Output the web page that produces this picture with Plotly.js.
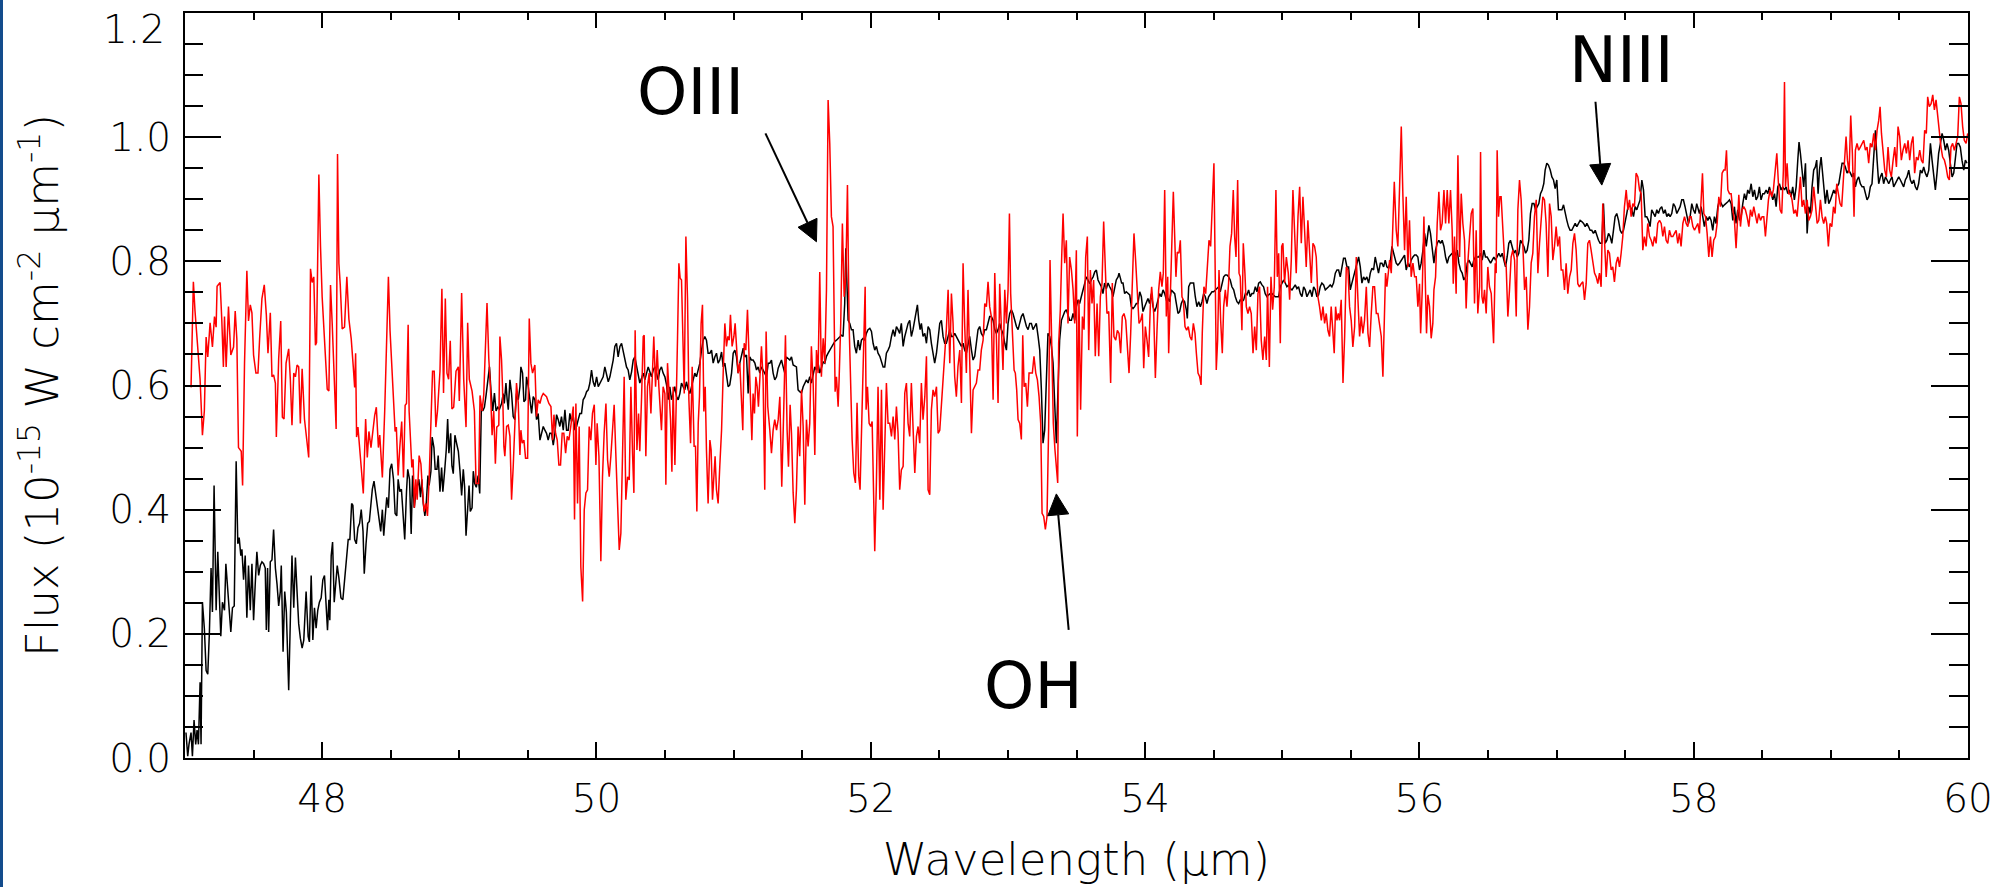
<!DOCTYPE html>
<html>
<head>
<meta charset="utf-8">
<script src="https://cdn.plot.ly/plotly-3.0.1.min.js"></script>
<style>
html,body{margin:0;padding:0;background:#fff;}
#chart{width:2015px;height:887px;}
#strip{position:absolute;left:0;top:0;width:3px;height:887px;background:#134c8c;}
</style>
</head>
<body>
<div id="chart"></div>
<div id="strip"></div>
<script>
// Wavelength (micron) and flux (1e-15 W cm^-2 micron^-1)
const redWave = [
47.044,47.061,47.073,47.093,47.110,47.127,47.141,47.154,47.166,47.183,
47.200,47.215,47.227,47.234,47.256,47.268,47.280,47.288,47.300,47.317,
47.334,47.354,47.366,47.378,47.390,47.410,47.420,47.434,47.451,47.463,
47.476,47.488,47.500,47.517,47.532,47.544,47.561,47.578,47.593,47.605,
47.622,47.634,47.646,47.659,47.666,47.683,47.698,47.710,47.722,47.737,
47.756,47.768,47.780,47.793,47.805,47.817,47.829,47.841,47.854,47.871,
47.890,47.902,47.915,47.927,47.939,47.951,47.959,47.976,47.988,48.000,
48.020,48.037,48.049,48.061,48.073,48.093,48.102,48.112,48.122,48.132,
48.146,48.163,48.180,48.195,48.212,48.227,48.237,48.244,48.251,48.261,
48.273,48.285,48.300,48.317,48.329,48.341,48.356,48.371,48.383,48.395,
48.410,48.420,48.439,48.456,48.471,48.483,48.495,48.512,48.532,48.541,
48.554,48.566,48.580,48.593,48.605,48.615,48.627,48.634,48.654,48.663,
48.673,48.683,48.693,48.707,48.720,48.732,48.744,48.756,48.768,48.780,
48.793,48.805,48.817,48.829,48.841,48.859,48.873,48.885,48.898,48.910,
48.922,48.934,48.946,48.959,48.976,48.993,49.000,49.017,49.032,49.049,
49.061,49.073,49.093,49.110,49.122,49.141,49.151,49.166,49.178,49.190,
49.202,49.215,49.227,49.239,49.251,49.263,49.273,49.288,
49.296,49.308,49.315,49.325,49.332,49.345,49.357,49.369,49.381,49.393,
49.405,49.417,49.430,49.442,49.449,49.459,49.471,49.483,49.498,49.510,
49.522,49.534,49.551,49.563,49.575,49.588,49.600,49.612,49.636,49.653,
49.668,49.680,49.690,49.702,49.714,49.726,49.738,49.750,49.762,49.775,
49.787,49.799,49.811,49.823,49.831,49.840,49.850,49.862,49.874,49.886,
49.899,49.911,49.923,49.935,49.947,49.959,49.971,49.984,49.996,50.005,
50.018,50.032,50.044,50.056,50.069,50.081,50.093,50.105,50.117,50.129,
50.141,50.154,50.166,50.178,50.190,50.202,50.214,50.227,50.239,50.251,
50.263,50.273,50.282,50.295,50.307,50.316,50.329,50.341,50.348,50.360,
50.372,50.384,50.397,50.409,50.418,50.431,50.443,50.455,50.462,50.474,
50.486,50.499,50.506,50.518,50.530,50.540,50.550,50.559,50.572,50.584,
50.591,50.601,50.610,50.620,50.630,50.640,50.652,50.664,50.674,50.686,
50.698,50.712,50.722,50.732,50.742,50.751,50.763,50.773,50.783,50.793,
50.802,50.814,50.827,50.836,50.846,50.856,50.865,50.875,50.887,50.899,
50.912,50.924,50.936,50.948,50.958,50.968,50.977,50.989,51.002,51.011,
51.021,51.033,51.045,51.057,51.067,51.077,51.089,51.101,51.113,51.123,
51.133,51.142,51.152,51.162,51.172,51.181,51.191,51.203,51.215,51.227,
51.237,51.249,51.264,51.276,51.288,51.300,51.313,51.325,51.337,51.351,
51.366,51.378,51.390,51.400,51.412,51.422,51.434,
51.446,51.458,51.470,51.482,51.495,51.507,51.519,51.531,51.543,51.555,
51.567,51.580,51.592,51.604,51.616,51.628,51.640,51.653,51.665,51.677,
51.689,51.701,51.713,51.725,51.733,51.740,51.750,51.762,51.769,51.781,
51.793,51.806,51.818,51.830,51.842,51.852,51.864,51.876,51.888,51.900,
51.912,51.922,51.934,51.946,51.959,51.966,51.976,51.988,52.000,52.010,
52.019,52.029,52.041,52.053,52.066,52.078,52.090,52.102,52.114,52.126,
52.138,52.151,52.163,52.175,52.187,52.199,52.211,52.223,52.236,52.248,
52.260,52.272,52.284,52.296,52.308,52.321,52.333,52.345,52.357,52.369,
52.381,52.394,52.406,52.418,52.430,52.442,52.454,52.466,52.479,52.491,
52.503,52.515,52.527,52.539,52.551,52.564,52.576,52.588,52.600,52.612,
52.624,52.636,52.649,52.661,52.673,52.685,52.697,52.709,52.721,52.734,
52.746,52.758,52.770,52.782,52.794,52.806,52.819,52.831,52.843,52.855,
52.867,52.879,52.892,52.904,52.916,52.928,52.940,52.952,52.964,52.977,
52.989,53.001,53.011,53.020,53.033,53.045,53.054,53.064,53.074,53.086,
53.098,53.108,53.118,53.130,53.142,53.154,53.166,53.178,53.190,53.203,
53.215,53.227,53.239,53.249,53.261,53.273,53.285,53.297,53.307,53.319,
53.331,53.343,53.356,53.363,53.370,53.382,53.392,53.402,53.414,53.426,
53.438,53.450,53.463,53.475,53.487,53.499,53.506,53.518,53.530,53.543,
53.555,53.567,53.579,53.589,53.601,53.613,53.625,53.637,53.650,53.662,
53.674,53.686,
53.698,53.710,53.722,53.735,53.749,53.761,53.773,53.786,53.798,53.810,
53.822,53.834,53.846,53.859,53.871,53.883,53.895,53.907,53.919,53.931,
53.944,53.956,53.968,53.980,53.990,54.002,54.014,54.026,54.038,54.048,
54.063,54.075,54.087,54.099,54.111,54.123,54.133,54.143,54.155,54.165,
54.172,54.184,54.196,54.206,54.216,54.225,54.235,54.247,54.257,54.269,
54.279,54.291,54.303,54.315,54.327,54.340,54.352,54.364,54.374,54.386,
54.398,54.408,54.417,54.429,54.442,54.454,54.466,54.478,54.490,54.502,
54.512,54.519,54.529,54.539,54.551,54.563,54.573,54.585,54.597,54.609,
54.619,54.631,54.643,54.653,54.663,54.675,54.685,54.694,54.706,54.716,
54.728,54.738,54.750,54.762,54.774,54.787,54.799,54.811,54.823,54.835,
54.847,54.859,54.872,54.884,54.893,54.906,54.918,54.930,54.942,54.954,
54.964,54.974,54.986,54.996,55.005,55.017,55.030,55.044,55.054,55.066,
55.078,55.090,55.102,55.115,55.127,55.139,55.151,55.163,55.175,55.187,
55.200,55.212,55.224,55.236,55.248,55.260,55.272,55.285,55.297,55.309,
55.321,55.333,55.345,55.357,55.370,55.379,55.389,55.399,55.409,55.418,
55.430,55.443,55.455,55.467,55.479,55.491,55.503,55.515,55.528,55.540,
55.552,55.564,55.576,55.588,55.600,55.613,55.625,55.637,55.649,55.661,
55.673,55.686,55.698,55.710,55.722,55.734,55.746,55.753,55.763,55.773,
55.783,55.795,55.807,55.817,
55.831,55.843,55.855,55.868,55.880,55.892,55.904,55.916,55.928,55.940,
55.953,55.965,55.977,55.989,56.001,56.009,56.021,56.033,56.043,56.052,
56.062,56.074,56.086,56.098,56.106,56.118,56.130,56.142,56.154,56.166,
56.179,56.191,56.203,56.215,56.227,56.239,56.247,56.256,56.268,56.281,
56.293,56.305,56.317,56.329,56.341,56.353,56.366,56.378,56.390,56.402,
56.414,56.426,56.439,56.446,56.456,56.465,56.475,56.487,56.499,56.511,
56.524,56.531,56.541,56.553,56.560,56.567,56.577,56.587,56.596,56.609,
56.621,56.633,56.645,56.657,56.669,56.681,56.694,56.706,56.718,56.730,
56.742,56.754,56.767,56.779,56.791,56.803,56.815,56.827,56.839,56.852,
56.864,56.876,56.888,56.900,56.912,56.924,56.937,56.949,56.961,56.973,
56.985,56.997,57.009,57.022,57.034,57.046,57.058,57.070,57.082,57.095,
57.107,57.119,57.131,57.143,57.155,57.167,57.180,57.192,57.204,57.216,
57.228,57.240,57.252,57.265,57.277,57.289,57.301,57.313,57.325,57.337,
57.350,57.362,57.374,57.386,57.398,57.410,57.422,57.435,57.447,57.459,
57.471,57.483,57.495,57.508,57.520,57.532,57.544,57.556,57.568,57.580,
57.593,57.605,57.617,57.629,57.641,57.653,57.665,57.678,57.690,57.702,
57.714,57.726,57.738,57.751,57.763,57.775,57.787,57.799,57.811,57.823,
57.836,57.848,57.860,57.872,57.884,57.896,57.908,57.921,57.933,57.945,
57.957,57.969,57.981,57.994,58.006,58.018,58.030,
58.042,58.054,58.064,58.074,58.086,58.098,58.110,58.122,58.134,58.146,
58.159,58.171,58.183,58.195,58.207,58.219,58.229,58.239,58.249,58.261,
58.273,58.285,58.297,58.309,58.319,58.329,58.341,58.353,58.365,58.377,
58.389,58.402,58.414,58.426,58.438,58.450,58.462,58.474,58.487,58.499,
58.511,58.523,58.535,58.545,58.557,58.569,58.581,58.594,58.606,58.618,
58.630,58.642,58.654,58.662,58.669,58.681,58.693,58.705,58.717,58.730,
58.742,58.754,58.766,58.778,58.790,58.802,58.815,58.827,58.839,58.851,
58.863,58.875,58.887,58.900,58.912,58.924,58.936,58.948,58.960,58.970,
58.982,58.994,59.007,59.019,59.031,59.043,59.055,59.067,59.079,59.092,
59.104,59.111,59.121,59.133,59.145,59.157,59.169,59.179,59.191,59.203,
59.215,59.228,59.240,59.252,59.264,59.276,59.288,59.300,59.313,59.325,
59.337,59.349,59.359,59.369,59.381,59.393,59.405,59.417,59.429,59.441,
59.454,59.466,59.478,59.490,59.502,59.514,59.526,59.539,59.551,59.563,
59.575,59.587,59.599,59.611,59.624,59.636,59.648,59.660,59.672,59.684,
59.696,59.706,59.718,59.731,59.743,59.755,59.767,59.779,59.791,59.803,
59.815,59.828,59.840,59.852,59.864,59.876,59.888,59.900,59.913,59.925,
59.937,59.949,59.961,59.973,59.986,59.998
];
const redFlux = [
0.597,0.767,0.720,0.652,0.610,0.520,0.559,0.678,0.646,0.701,
0.662,0.711,0.694,0.760,0.766,0.707,0.630,0.711,0.630,0.727,
0.649,0.662,0.720,0.675,0.500,0.494,0.439,0.636,0.785,0.704,
0.730,0.717,0.649,0.620,0.620,0.675,0.740,0.762,0.714,0.652,
0.717,0.614,0.617,0.604,0.517,0.643,0.704,0.549,0.546,0.636,
0.659,0.610,0.536,0.620,0.614,0.633,0.630,0.539,0.627,0.546,
0.500,0.484,0.788,0.766,0.775,0.665,0.669,0.940,0.824,0.743,
0.662,0.594,0.591,0.762,0.701,0.588,0.530,0.973,0.797,0.762,
0.691,0.694,0.775,0.707,0.675,0.630,0.597,0.652,0.517,0.533,
0.494,0.468,0.426,0.546,0.484,0.526,0.500,0.530,0.552,0.565,
0.500,0.520,0.452,0.559,0.672,0.775,0.688,0.604,0.526,0.533,
0.455,0.500,0.542,0.452,0.568,0.571,0.698,0.559,0.468,0.481,
0.403,0.449,0.416,0.487,0.474,0.429,0.397,0.410,0.390,0.449,
0.552,0.623,0.623,0.533,0.559,0.623,0.756,0.588,0.740,0.620,
0.610,0.672,0.562,0.565,0.623,0.630,0.575,0.749,0.610,0.533,
0.701,0.610,0.591,0.559,0.442,0.442,0.584,0.559,0.584,0.649,
0.733,0.643,0.597,0.520,0.559,0.474,0.533,0.536,
0.679,0.641,0.598,0.502,0.486,0.534,0.536,0.518,0.416,0.469,
0.555,0.604,0.571,0.488,0.528,0.507,0.512,0.483,0.483,0.708,
0.636,0.620,0.633,0.550,0.577,0.571,0.582,0.587,0.582,0.571,
0.566,0.512,0.553,0.523,0.512,0.472,0.472,0.523,0.523,0.491,
0.518,0.512,0.531,0.550,0.566,0.384,0.571,0.410,0.534,0.308,
0.252,0.400,0.427,0.432,0.534,0.512,0.555,0.569,0.472,0.539,
0.486,0.317,0.453,0.523,0.571,0.480,0.453,0.486,0.528,0.569,
0.491,0.394,0.335,0.362,0.491,0.614,0.416,0.453,0.448,0.598,
0.491,0.427,0.689,0.496,0.555,0.494,0.582,0.679,0.681,0.486,
0.598,0.620,0.555,0.625,0.679,0.598,0.657,0.598,0.577,0.528,
0.598,0.587,0.440,0.636,0.587,0.545,0.461,0.598,0.472,0.577,
0.676,0.797,0.773,0.770,0.663,0.587,0.840,0.738,0.577,0.507,
0.630,0.502,0.502,0.397,0.539,0.582,0.700,0.730,0.558,0.598,
0.496,0.410,0.512,0.496,0.416,0.464,0.486,0.432,0.410,0.469,
0.528,0.620,0.700,0.663,0.679,0.673,0.714,0.663,0.679,0.700,
0.668,0.620,0.636,0.577,0.528,0.668,0.657,0.722,0.641,0.609,
0.512,0.587,0.555,0.614,0.598,0.566,0.620,0.663,0.609,0.432,
0.687,0.566,0.528,0.491,0.528,0.545,0.528,0.545,0.582,0.437,
0.566,0.681,0.528,0.469,0.569,0.523,0.427,
0.378,0.432,0.534,0.486,0.593,0.534,0.408,0.545,0.502,0.539,
0.663,0.604,0.488,0.657,0.620,0.783,0.614,0.676,0.636,0.754,
1.060,0.990,0.872,0.856,0.700,0.590,0.614,0.566,0.609,0.700,
0.861,0.743,0.775,0.923,0.700,0.604,0.513,0.459,0.443,0.572,
0.454,0.432,0.545,0.620,0.759,0.561,0.598,0.539,0.534,0.542,
0.427,0.333,0.443,0.598,0.416,0.593,0.400,0.491,0.604,0.539,
0.539,0.518,0.550,0.513,0.566,0.523,0.432,0.464,0.470,0.588,
0.604,0.539,0.518,0.604,0.518,0.459,0.518,0.534,0.507,0.604,
0.545,0.582,0.647,0.432,0.424,0.561,0.593,0.582,0.598,0.523,
0.528,0.566,0.614,0.657,0.690,0.754,0.636,0.748,0.700,0.614,
0.582,0.631,0.657,0.572,0.797,0.695,0.620,0.754,0.647,0.523,
0.593,0.598,0.604,0.625,0.625,0.657,0.673,0.732,0.727,0.767,
0.727,0.711,0.577,0.781,0.673,0.572,0.764,0.700,0.625,0.754,
0.700,0.754,0.877,0.748,0.679,0.625,0.620,0.593,0.545,0.539,
0.513,0.681,0.598,0.604,0.566,0.620,0.620,0.620,0.647,0.620,
0.609,0.582,0.539,0.394,0.389,0.368,0.389,0.534,0.802,0.668,
0.539,0.496,0.454,0.443,0.668,0.722,0.807,0.877,0.797,0.834,
0.700,0.807,0.786,0.754,0.700,0.818,0.518,0.738,0.561,0.711,
0.690,0.807,0.840,0.657,0.786,0.732,0.770,0.647,0.732,0.647,
0.743,0.764,
0.864,0.802,0.716,0.719,0.604,0.765,0.679,0.673,0.689,0.684,
0.652,0.711,0.716,0.705,0.652,0.620,0.684,0.770,0.845,0.802,
0.748,0.700,0.705,0.716,0.628,0.695,0.673,0.646,0.727,0.759,
0.716,0.612,0.689,0.754,0.783,0.759,0.781,0.915,0.711,0.775,
0.652,0.748,0.845,0.912,0.840,0.775,0.815,0.813,0.834,0.743,
0.738,0.695,0.689,0.695,0.679,0.673,0.700,0.684,0.652,0.620,
0.614,0.601,0.684,0.759,0.748,0.802,0.834,0.824,0.888,0.958,
0.770,0.625,0.673,0.786,0.705,0.652,0.727,0.754,0.727,0.765,
0.824,0.845,0.915,0.840,0.807,0.931,0.781,0.775,0.689,0.829,
0.781,0.727,0.716,0.727,0.716,0.652,0.695,0.657,0.748,0.759,
0.673,0.641,0.679,0.641,0.759,0.630,0.775,0.722,0.759,0.915,
0.775,0.813,0.668,0.824,0.829,0.765,0.807,0.781,0.738,0.802,
0.915,0.840,0.781,0.872,0.920,0.829,0.904,0.850,0.791,0.866,
0.802,0.765,0.829,0.824,0.807,0.743,0.727,0.705,0.727,0.700,
0.716,0.689,0.679,0.727,0.684,0.652,0.727,0.705,0.716,0.705,
0.738,0.604,0.679,0.791,0.786,0.727,0.705,0.662,0.695,0.807,
0.738,0.679,0.711,0.684,0.705,0.759,0.684,0.662,0.716,0.759,
0.759,0.716,0.716,0.700,0.679,0.614,0.716,0.781,0.759,0.781,
0.802,0.781,0.866,0.928,
0.850,0.824,0.915,1.017,0.904,0.818,0.904,0.791,0.866,0.775,
0.797,0.775,0.775,0.727,0.764,0.684,0.754,0.872,0.770,0.684,
0.746,0.727,0.676,0.700,0.754,0.775,0.861,0.912,0.850,0.861,
0.915,0.861,0.915,0.861,0.915,0.850,0.764,0.840,0.748,0.971,
0.807,0.909,0.861,0.834,0.724,0.797,0.840,0.877,0.885,0.732,
0.850,0.716,0.759,0.976,0.743,0.732,0.754,0.716,0.791,0.759,
0.748,0.711,0.668,0.797,0.781,0.979,0.872,0.904,0.904,0.850,
0.802,0.791,0.711,0.754,0.807,0.818,0.802,0.711,0.883,0.931,
0.899,0.829,0.754,0.775,0.690,0.727,0.797,0.813,0.872,0.899,
0.781,0.829,0.866,0.904,0.899,0.861,0.775,0.893,0.872,0.802,
0.824,0.856,0.824,0.840,0.786,0.786,0.754,0.797,0.748,0.775,
0.786,0.829,0.845,0.818,0.764,0.759,0.764,0.767,0.738,0.764,
0.829,0.834,0.818,0.802,0.781,0.775,0.764,0.781,0.759,0.893,
0.829,0.775,0.818,0.813,0.786,0.791,0.767,0.797,0.807,0.791,
0.813,0.840,0.888,0.915,0.883,0.899,0.872,0.893,0.888,0.942,
0.936,0.915,0.909,0.818,0.840,0.824,0.861,0.840,0.834,0.824,
0.840,0.829,0.861,0.866,0.861,0.840,0.856,0.834,0.829,0.850,
0.840,0.840,0.845,0.850,0.829,0.845,0.824,0.861,0.872,0.861,
0.856,0.872,0.872,0.856,0.850,0.856,0.861,
0.845,0.888,0.942,0.877,0.872,0.845,0.807,0.840,0.807,0.834,
0.840,0.861,0.904,0.888,0.942,0.947,0.947,0.979,0.915,0.909,
0.909,0.883,0.866,0.821,0.866,0.907,0.856,0.883,0.888,0.883,
0.872,0.856,0.883,0.872,0.888,0.877,0.861,0.877,0.866,0.872,
0.872,0.840,0.872,0.899,0.915,0.904,0.915,0.952,0.974,0.925,
0.883,0.877,0.947,1.089,0.920,0.958,0.909,0.909,0.899,0.877,
0.883,0.872,0.904,0.936,0.888,0.899,0.877,0.899,0.866,0.872,
0.883,0.920,0.893,0.861,0.866,0.899,0.872,0.861,0.872,0.861,
0.824,0.861,0.856,0.888,0.877,0.925,0.909,0.893,0.888,0.936,
0.974,1.001,0.963,0.942,1.035,0.974,0.872,0.979,0.990,0.979,
0.984,0.990,0.995,0.979,0.984,0.958,0.990,0.984,1.006,0.979,
1.011,1.027,1.049,1.006,0.974,0.947,0.936,0.984,0.947,0.936,
0.963,0.984,0.952,1.017,1.001,0.963,0.979,0.990,0.974,0.995,
0.963,0.990,1.001,0.942,0.968,0.963,0.979,0.963,0.958,1.011,
1.006,1.065,1.049,1.054,1.068,1.044,1.060,1.033,1.001,0.984,
0.968,0.963,0.952,0.936,0.931,0.984,0.990,0.979,0.990,1.001,
1.065,1.054,1.017,0.995,0.990,1.006
];
const blackWave = [
47.007,47.020,47.029,47.044,47.054,47.066,47.078,47.088,47.098,47.110,
47.117,47.127,47.141,47.154,47.166,47.178,47.190,47.200,47.212,47.227,
47.239,47.251,47.261,47.273,47.288,47.298,47.310,47.322,47.334,47.346,
47.359,47.373,47.385,47.395,47.407,47.415,47.427,47.439,47.451,47.463,
47.476,47.488,47.500,47.512,47.524,47.537,47.549,47.561,47.573,47.585,
47.593,47.602,47.610,47.622,47.634,47.646,47.659,47.671,47.683,47.695,
47.702,47.715,47.727,47.739,47.756,47.768,47.780,47.793,47.805,47.817,
47.829,47.841,47.854,47.866,47.883,47.898,47.907,47.920,47.932,47.944,
47.956,47.968,47.980,47.993,48.005,48.017,48.029,48.039,48.049,48.056,
48.066,48.076,48.088,48.098,48.110,48.122,48.137,48.151,48.166,48.178,
48.190,48.202,48.215,48.224,48.237,48.249,48.261,48.273,48.285,48.298,
48.307,48.320,48.332,48.344,48.356,48.366,48.378,48.390,48.402,48.415,
48.427,48.439,48.449,48.459,48.471,48.483,48.495,48.507,48.520,48.532,
48.544,48.554,48.566,48.578,48.590,48.602,48.615,48.624,48.637,48.649,
48.659,48.671,48.683,48.693,48.705,48.717,48.727,48.737,48.749,48.759,
48.771,48.780,48.793,48.802,48.815,48.824,48.837,48.846,48.859,48.871,
48.880,48.893,48.905,48.915,48.924,48.937,48.946,48.956,48.968,48.980,
48.993,49.005,49.017,49.029,49.039,49.049,49.061,49.071,49.080,49.093,
49.102,49.112,49.124,49.137,49.149,49.161,49.171,49.183,49.195,49.207,
49.220,49.232,49.244,49.256,49.268,49.280,49.293,
49.308,49.320,49.328,49.340,49.349,49.357,49.369,49.381,49.393,49.405,
49.417,49.430,49.442,49.449,49.461,49.471,49.483,49.490,49.503,49.515,
49.527,49.539,49.551,49.563,49.575,49.588,49.600,49.612,49.624,49.636,
49.648,49.660,49.673,49.685,49.697,49.709,49.721,49.733,49.745,49.758,
49.770,49.782,49.794,49.806,49.818,49.831,49.843,49.855,49.867,49.879,
49.891,49.903,49.916,49.928,49.940,49.952,49.964,49.976,49.988,50.001,
50.013,50.025,50.037,50.049,50.061,50.073,50.086,50.098,50.110,50.122,
50.134,50.146,50.158,50.171,50.183,50.195,50.207,50.219,50.231,50.243,
50.256,50.268,50.280,50.292,50.304,50.316,50.329,50.341,50.353,50.365,
50.377,50.389,50.401,50.414,50.426,50.438,50.450,50.462,50.474,50.486,
50.499,50.511,50.523,50.535,50.547,50.559,50.571,50.584,50.596,50.608,
50.620,50.632,50.644,50.656,50.669,50.681,50.693,50.705,50.717,50.729,
50.742,50.754,50.766,50.778,50.790,50.802,50.814,50.827,50.839,50.851,
50.863,50.875,50.887,50.899,50.912,50.924,50.936,50.948,50.960,50.972,
50.985,50.997,51.009,51.021,51.033,51.045,51.057,51.070,51.082,51.094,
51.106,51.118,51.130,51.142,51.155,51.167,51.179,51.191,51.203,51.215,
51.227,51.240,51.252,51.264,51.276,51.288,51.300,51.313,51.325,51.337,
51.349,51.361,51.373,51.385,51.398,51.410,51.422,51.434,
51.458,51.470,51.482,51.495,51.507,51.519,51.531,51.543,51.555,51.567,
51.580,51.592,51.604,51.616,51.628,51.640,51.653,51.665,51.677,51.689,
51.701,51.713,51.725,51.738,51.750,51.762,51.774,51.786,51.798,51.810,
51.818,51.827,51.835,51.847,51.859,51.871,51.883,51.895,51.908,51.920,
51.932,51.944,51.956,51.968,51.980,51.993,52.005,52.017,52.029,52.041,
52.053,52.066,52.078,52.090,52.102,52.114,52.126,52.138,52.151,52.163,
52.175,52.187,52.199,52.211,52.223,52.236,52.248,52.260,52.272,52.284,
52.296,52.308,52.321,52.333,52.340,52.350,52.360,52.369,52.381,52.394,
52.406,52.418,52.430,52.442,52.454,52.466,52.479,52.491,52.503,52.515,
52.527,52.539,52.551,52.564,52.576,52.588,52.600,52.612,52.624,52.636,
52.649,52.661,52.673,52.685,52.697,52.709,52.721,52.734,52.746,52.758,
52.770,52.782,52.794,52.806,52.819,52.831,52.843,52.855,52.867,52.879,
52.892,52.904,52.916,52.928,52.940,52.952,52.964,52.977,52.989,53.001,
53.013,53.025,53.037,53.050,53.062,53.074,53.086,53.098,53.110,53.122,
53.135,53.147,53.159,53.171,53.183,53.195,53.207,53.220,53.232,53.244,
53.256,53.268,53.280,53.292,53.305,53.317,53.329,53.341,53.353,53.365,
53.377,53.390,53.402,53.414,53.426,53.438,53.450,53.463,53.475,53.487,
53.499,53.511,53.523,53.535,53.548,53.560,53.572,53.584,53.596,53.608,
53.621,53.633,53.645,53.657,53.669,
53.681,53.693,53.705,53.718,53.730,53.742,53.754,53.766,53.778,53.790,
53.803,53.810,53.820,53.829,53.839,53.851,53.863,53.876,53.888,53.900,
53.912,53.924,53.936,53.948,53.961,53.973,53.985,53.997,54.009,54.021,
54.033,54.046,54.058,54.070,54.082,54.094,54.106,54.118,54.131,54.143,
54.155,54.167,54.179,54.191,54.203,54.216,54.228,54.240,54.252,54.264,
54.276,54.288,54.301,54.308,54.318,54.330,54.342,54.354,54.366,54.378,
54.391,54.403,54.415,54.427,54.439,54.451,54.463,54.476,54.488,54.500,
54.512,54.524,54.536,54.548,54.561,54.573,54.585,54.597,54.609,54.621,
54.633,54.646,54.658,54.670,54.682,54.694,54.706,54.719,54.731,54.743,
54.755,54.767,54.779,54.791,54.804,54.816,54.828,54.840,54.852,54.864,
54.876,54.889,54.901,54.913,54.925,54.937,54.949,54.961,54.974,54.986,
54.998,55.010,55.022,55.034,55.047,55.059,55.071,55.083,55.095,55.107,
55.119,55.132,55.144,55.156,55.168,55.180,55.192,55.204,55.217,55.229,
55.241,55.253,55.265,55.277,55.289,55.302,55.314,55.326,55.338,55.350,
55.362,55.374,55.387,55.399,55.411,55.423,55.435,55.447,55.459,55.472,
55.484,55.496,55.508,55.520,55.532,55.545,55.557,55.569,55.581,55.593,
55.605,55.617,55.630,55.642,55.654,55.666,55.678,55.690,55.702,55.715,
55.727,55.739,55.751,55.763,55.775,55.788,55.800,
55.831,55.843,55.855,55.868,55.880,55.892,55.904,55.916,55.928,55.940,
55.953,55.965,55.977,55.989,56.001,56.013,56.026,56.038,56.050,56.062,
56.069,56.081,56.094,56.106,56.118,56.130,56.142,56.154,56.166,56.179,
56.191,56.203,56.215,56.227,56.239,56.251,56.264,56.276,56.288,56.300,
56.312,56.324,56.337,56.349,56.361,56.373,56.385,56.397,56.409,56.422,
56.434,56.446,56.458,56.470,56.482,56.494,56.507,56.519,56.531,56.543,
56.555,56.567,56.579,56.592,56.604,56.616,56.628,56.640,56.652,56.664,
56.677,56.689,56.701,56.713,56.725,56.737,56.750,56.762,56.774,56.786,
56.798,56.810,56.822,56.835,56.847,56.859,56.871,56.883,56.895,56.907,
56.917,56.929,56.941,56.954,56.966,56.978,56.990,57.002,57.014,57.027,
57.039,57.051,57.063,57.075,57.087,57.099,57.111,57.124,57.136,57.148,
57.160,57.172,57.184,57.197,57.209,57.221,57.233,57.245,57.257,57.269,
57.282,57.294,57.306,57.318,57.330,57.342,57.354,57.367,57.379,57.391,
57.403,57.415,57.427,57.439,57.452,57.464,57.476,57.488,57.500,57.512,
57.525,57.537,57.549,57.561,57.573,57.585,57.597,57.609,57.622,57.634,
57.646,57.658,57.670,57.682,57.694,57.707,57.719,57.731,57.743,57.755,
57.767,57.780,57.792,57.804,57.816,57.828,57.840,57.852,57.865,57.877,
57.889,57.901,57.913,57.925,57.937,57.950,57.962,57.974,57.986,57.998,
58.010,58.022,
58.042,58.054,58.066,58.078,58.091,58.103,58.115,58.127,58.139,58.151,
58.163,58.176,58.188,58.200,58.212,58.224,58.236,58.249,58.261,58.273,
58.285,58.297,58.309,58.321,58.334,58.346,58.358,58.370,58.382,58.394,
58.406,58.419,58.431,58.443,58.455,58.467,58.479,58.491,58.504,58.516,
58.528,58.540,58.552,58.564,58.577,58.589,58.601,58.613,58.625,58.637,
58.649,58.662,58.674,58.686,58.698,58.710,58.722,58.734,58.747,58.759,
58.768,58.778,58.790,58.802,58.815,58.827,58.839,58.851,58.863,58.875,
58.887,58.897,58.907,58.917,58.929,58.939,58.951,58.960,58.972,58.985,
58.997,59.009,59.021,59.033,59.045,59.058,59.070,59.082,59.094,59.106,
59.118,59.130,59.143,59.155,59.167,59.179,59.191,59.203,59.215,59.228,
59.240,59.252,59.264,59.276,59.288,59.300,59.313,59.325,59.337,59.349,
59.361,59.373,59.385,59.398,59.410,59.422,59.434,59.446,59.458,59.470,
59.483,59.495,59.507,59.519,59.531,59.543,59.555,59.568,59.580,59.592,
59.604,59.616,59.628,59.640,59.653,59.665,59.677,59.689,59.701,59.714,
59.726,59.738,59.750,59.762,59.774,59.786,59.799,59.811,59.823,59.835,
59.847,59.859,59.871,59.884,59.896,59.908,59.920,59.932,59.944,59.956,
59.969,59.981,59.993
];
const blackFlux = [
0.041,0.003,0.022,0.041,0.003,0.061,0.022,0.045,0.022,0.122,
0.022,0.251,0.209,0.141,0.135,0.203,0.306,0.235,0.439,0.238,
0.332,0.255,0.196,0.251,0.238,0.313,0.280,0.245,0.203,0.242,
0.245,0.478,0.345,0.355,0.326,0.336,0.287,0.326,0.226,0.310,
0.238,0.313,0.222,0.280,0.332,0.294,0.310,0.316,0.313,0.306,
0.206,0.306,0.203,0.316,0.319,0.368,0.306,0.280,0.245,0.268,
0.310,0.171,0.268,0.235,0.109,0.222,0.326,0.242,0.323,0.268,
0.216,0.193,0.177,0.190,0.268,0.196,0.187,0.294,0.190,0.242,
0.209,0.238,0.251,0.258,0.287,0.294,0.251,0.206,0.255,0.222,
0.326,0.348,0.251,0.274,0.310,0.290,0.258,0.255,0.294,0.323,
0.352,0.352,0.410,0.407,0.352,0.345,0.371,0.378,0.400,0.365,
0.297,0.345,0.378,0.381,0.407,0.433,0.446,0.426,0.410,0.390,
0.365,0.400,0.358,0.387,0.420,0.403,0.465,0.474,0.449,0.394,
0.390,0.449,0.429,0.433,0.390,0.352,0.429,0.465,0.449,0.361,
0.455,0.403,0.426,0.439,0.449,0.420,0.449,0.410,0.390,0.410,
0.455,0.439,0.462,0.517,0.500,0.465,0.465,0.487,0.429,0.468,
0.429,0.462,0.497,0.546,0.491,0.523,0.471,0.458,0.520,0.507,
0.494,0.462,0.423,0.465,0.436,0.358,0.413,0.439,0.397,0.403,
0.462,0.442,0.436,0.455,0.426,0.568,0.559,0.565,0.584,0.607,
0.630,0.588,0.559,0.588,0.559,0.565,0.562,
0.571,0.587,0.571,0.604,0.577,0.561,0.609,0.587,0.550,0.545,
0.587,0.577,0.598,0.630,0.620,0.574,0.577,0.614,0.598,0.571,
0.555,0.582,0.577,0.545,0.555,0.512,0.523,0.534,0.528,0.523,
0.512,0.523,0.523,0.504,0.523,0.553,0.545,0.534,0.550,0.528,
0.561,0.528,0.528,0.555,0.542,0.550,0.528,0.534,0.545,0.555,
0.555,0.577,0.582,0.590,0.593,0.604,0.625,0.606,0.598,0.614,
0.598,0.604,0.609,0.614,0.630,0.617,0.606,0.614,0.625,0.641,
0.663,0.668,0.646,0.663,0.668,0.657,0.641,0.630,0.625,0.609,
0.622,0.641,0.646,0.630,0.614,0.604,0.612,0.620,0.609,0.622,
0.630,0.622,0.614,0.625,0.630,0.620,0.609,0.625,0.630,0.620,
0.614,0.601,0.577,0.598,0.577,0.587,0.598,0.582,0.577,0.587,
0.604,0.598,0.593,0.606,0.593,0.587,0.598,0.604,0.620,0.614,
0.625,0.636,0.657,0.673,0.679,0.673,0.652,0.652,0.657,0.636,
0.646,0.652,0.636,0.641,0.654,0.630,0.636,0.614,0.598,0.601,
0.620,0.652,0.657,0.646,0.620,0.636,0.646,0.660,0.646,0.649,
0.587,0.646,0.641,0.641,0.636,0.625,0.630,0.620,0.630,0.625,
0.620,0.614,0.636,0.636,0.641,0.620,0.609,0.614,0.628,0.636,
0.641,0.630,0.620,0.646,0.644,0.641,0.646,0.633,
0.630,0.593,0.590,0.588,0.598,0.604,0.609,0.604,0.614,0.604,
0.620,0.630,0.625,0.636,0.620,0.630,0.638,0.636,0.647,0.652,
0.657,0.663,0.668,0.671,0.673,0.676,0.679,0.681,0.679,0.732,
0.821,0.754,0.705,0.700,0.690,0.690,0.663,0.652,0.673,0.657,
0.673,0.676,0.673,0.684,0.690,0.692,0.687,0.668,0.657,0.663,
0.652,0.647,0.636,0.630,0.630,0.652,0.657,0.663,0.679,0.690,
0.679,0.695,0.690,0.684,0.700,0.663,0.679,0.690,0.700,0.705,
0.679,0.690,0.705,0.716,0.730,0.705,0.690,0.700,0.679,0.684,
0.668,0.695,0.690,0.668,0.652,0.636,0.652,0.679,0.700,0.705,
0.679,0.668,0.668,0.679,0.690,0.679,0.679,0.684,0.679,0.676,
0.668,0.663,0.668,0.657,0.652,0.668,0.679,0.657,0.641,0.647,
0.668,0.690,0.695,0.684,0.679,0.690,0.690,0.700,0.711,0.711,
0.705,0.690,0.684,0.690,0.700,0.690,0.684,0.668,0.657,0.700,
0.716,0.722,0.716,0.705,0.695,0.690,0.700,0.711,0.716,0.705,
0.695,0.690,0.700,0.700,0.690,0.695,0.700,0.679,0.657,0.593,
0.507,0.528,0.593,0.684,0.679,0.663,0.636,0.561,0.507,0.593,
0.673,0.705,0.711,0.719,0.722,0.711,0.705,0.705,0.716,0.705,
0.727,0.738,0.732,0.743,0.754,0.764,0.775,0.770,0.764,0.770,
0.775,0.783,0.786,0.770,0.764,
0.759,0.748,0.765,0.756,0.765,0.759,0.754,0.743,0.759,0.770,
0.775,0.781,0.773,0.765,0.765,0.748,0.751,0.748,0.746,0.727,
0.724,0.727,0.732,0.732,0.751,0.743,0.719,0.727,0.735,0.740,
0.732,0.748,0.727,0.719,0.727,0.738,0.748,0.743,0.754,0.748,
0.738,0.740,0.735,0.754,0.751,0.748,0.732,0.716,0.719,0.732,
0.738,0.735,0.722,0.708,0.759,0.765,0.765,0.765,0.743,0.727,
0.735,0.727,0.735,0.748,0.743,0.732,0.743,0.748,0.751,0.751,
0.754,0.756,0.759,0.751,0.765,0.775,0.778,0.778,0.775,0.770,
0.759,0.754,0.743,0.735,0.732,0.738,0.735,0.738,0.748,0.746,
0.754,0.743,0.748,0.748,0.759,0.751,0.765,0.767,0.762,0.759,
0.748,0.743,0.746,0.748,0.748,0.746,0.743,0.743,0.743,0.759,
0.765,0.770,0.765,0.759,0.762,0.756,0.754,0.759,0.762,0.756,
0.759,0.748,0.743,0.759,0.754,0.743,0.748,0.754,0.743,0.759,
0.754,0.743,0.746,0.759,0.765,0.762,0.754,0.756,0.759,0.762,
0.759,0.765,0.781,0.786,0.786,0.775,0.791,0.805,0.805,0.791,
0.791,0.754,0.765,0.775,0.783,0.794,0.807,0.791,0.765,0.775,
0.770,0.775,0.765,0.781,0.789,0.786,0.807,0.794,0.781,0.797,
0.797,0.791,0.802,0.791,0.789,0.799,0.824,
0.797,0.794,0.797,0.802,0.807,0.810,0.786,0.797,0.791,0.802,
0.807,0.810,0.810,0.807,0.786,0.797,0.818,0.845,0.824,0.850,
0.858,0.845,0.818,0.797,0.818,0.829,0.834,0.829,0.834,0.824,
0.807,0.797,0.807,0.810,0.813,0.805,0.813,0.818,0.797,0.786,
0.781,0.770,0.775,0.797,0.802,0.797,0.791,0.802,0.807,0.807,
0.807,0.813,0.802,0.818,0.807,0.807,0.802,0.797,0.802,0.807,
0.802,0.807,0.813,0.807,0.813,0.802,0.791,0.807,0.829,0.834,
0.824,0.813,0.818,0.807,0.813,0.834,0.829,0.824,0.813,0.818,
0.834,0.877,0.893,0.893,0.883,0.888,0.893,0.909,0.915,0.925,
0.947,0.958,0.955,0.947,0.936,0.931,0.917,0.931,0.883,0.883,
0.883,0.891,0.877,0.866,0.856,0.850,0.850,0.856,0.861,0.856,
0.861,0.866,0.864,0.861,0.856,0.861,0.856,0.850,0.850,0.845,
0.850,0.840,0.834,0.829,0.829,0.893,0.829,0.834,0.845,0.840,
0.829,0.850,0.872,0.877,0.866,0.850,0.845,0.850,0.861,0.877,
0.893,0.888,0.883,0.872,0.888,0.883,0.893,0.899,0.931,0.915,
0.872,0.872,0.866,0.856,0.883,0.877,0.872,0.883,0.877,0.885,
0.888,0.877,0.883,0.872,0.877,0.872,0.877,0.893,0.888,0.877,
0.883,0.888,0.899,0.899,0.888,0.872,0.861,0.872,0.893,0.883,
0.877,0.893,
0.877,0.888,0.872,0.856,0.872,0.866,0.872,0.866,0.850,0.872,
0.861,0.888,0.899,0.893,0.888,0.891,0.893,0.896,0.899,0.893,
0.866,0.888,0.861,0.883,0.866,0.872,0.893,0.909,0.899,0.915,
0.909,0.925,0.904,0.915,0.899,0.904,0.920,0.899,0.909,0.909,
0.915,0.909,0.920,0.909,0.899,0.909,0.888,0.920,0.925,0.915,
0.920,0.915,0.920,0.909,0.915,0.904,0.920,0.899,0.920,0.963,
0.992,0.974,0.942,0.920,0.958,0.845,0.888,0.877,0.920,0.947,
0.952,0.963,0.909,0.947,0.968,0.942,0.920,0.893,0.915,0.893,
0.899,0.909,0.915,0.909,0.920,0.925,0.942,0.958,0.958,0.952,
0.942,0.947,0.942,0.936,0.942,0.920,0.931,0.936,0.925,0.920,
0.920,0.909,0.899,0.904,0.920,0.925,0.968,1.011,0.963,0.925,
0.936,0.942,0.925,0.936,0.931,0.925,0.931,0.936,0.920,0.925,
0.931,0.936,0.931,0.925,0.920,0.931,0.936,0.947,0.931,0.925,
0.931,0.920,0.915,0.925,0.947,0.942,0.952,0.942,0.936,0.947,
0.990,0.963,0.936,0.915,0.942,0.974,0.990,1.006,0.995,0.979,
0.990,0.979,0.958,0.936,0.942,0.963,0.990,0.990,0.984,0.963,
0.947,0.963,0.958
];

// Axis tick values and labels (the top 1.2 label sits just below the frame, as in the reference)
const yTickVals = [0, 0.2, 0.4, 0.6, 0.8, 1.0];
const yTickText = ['0.0', '0.2', '0.4', '0.6', '0.8', '1.0'];
const yTopLabel = '1.2';
const xTickVals = [48, 50, 52, 54, 56, 58, 60];
const xTickText = ['48', '50', '52', '54', '56', '58', '60'];

// Line labels and their arrows (tail -> tip), in data units
const labels = [
  {text: 'OIII', x: 50.688, y: 1.073, tail: [51.232, 1.006], tip: [51.604, 0.8315]},
  {text: 'NIII', x: 57.472, y: 1.124, tail: [57.284, 1.057], tip: [57.330, 0.9228]},
  {text: 'OH',   x: 53.188, y: 0.1156, tail: [53.443, 0.2065], tip: [53.353, 0.4254]}
];

const axisFont = {family: '"DejaVu Sans", Roboto, sans-serif', size: 39, color: '#000', weight: 200};
const titleFont = {family: '"DejaVu Sans", Roboto, sans-serif', size: 45, color: '#000', weight: 200};
const labelFont = {family: '"DejaVu Sans", sans-serif', size: 64, color: '#000'};

const margin = {l: 185, r: 47, t: 13, b: 129};
const xRange = [47, 60], yRange = [0, 1.2];
const pxPerX = (2015 - margin.l - margin.r) / (xRange[1] - xRange[0]);
const pxPerY = (887 - margin.t - margin.b) / (yRange[1] - yRange[0]);

const shapes = [];
labels.forEach(function (lb) {
  const dx = (lb.tip[0] - lb.tail[0]) * pxPerX;
  const dy = (lb.tip[1] - lb.tail[1]) * pxPerY;
  const L = Math.sqrt(dx * dx + dy * dy);
  const ux = dx / L, uy = dy / L;
  const headLen = 21, halfW = 10.5;
  const bx = lb.tip[0] - ux * headLen / pxPerX;
  const by = lb.tip[1] - uy * headLen / pxPerY;
  const nx = -uy, ny = ux;
  const p1x = bx + nx * halfW / pxPerX, p1y = by + ny * halfW / pxPerY;
  const p2x = bx - nx * halfW / pxPerX, p2y = by - ny * halfW / pxPerY;
  shapes.push({type: 'line', xref: 'x', yref: 'y', x0: lb.tail[0], y0: lb.tail[1], x1: bx, y1: by,
    line: {color: '#000', width: 2}});
  shapes.push({type: 'path', xref: 'x', yref: 'y',
    path: 'M' + lb.tip[0] + ',' + lb.tip[1] + ' L' + p1x + ',' + p1y + ' L' + p2x + ',' + p2y + ' Z',
    fillcolor: '#000', line: {color: '#000', width: 1}});
});

const annotations = labels.map(function (lb) {
  return {xref: 'x', yref: 'y', x: lb.x, y: lb.y, text: lb.text, showarrow: false,
    font: labelFont, xanchor: 'center', yanchor: 'middle'};
});
// top y label, placed 15 px below the frame line
annotations.push({xref: 'paper', yref: 'paper', x: 0, y: 1, xanchor: 'right', yanchor: 'middle',
  xshift: -18, yshift: -16, text: yTopLabel, showarrow: false, font: axisFont});

const traces = [
  {x: blackWave, y: blackFlux, type: 'scatter', mode: 'lines',
   line: {color: '#000000', width: 1.5}, xaxis: 'x', yaxis: 'y', hoverinfo: 'skip'},
  {x: redWave, y: redFlux, type: 'scatter', mode: 'lines',
   line: {color: '#ff0000', width: 1.5}, xaxis: 'x2', yaxis: 'y2', hoverinfo: 'skip'}
];

const common = {showgrid: false, zeroline: false, showline: true, linewidth: 2, linecolor: '#000',
  ticks: 'inside', tickwidth: 2, tickcolor: '#000', fixedrange: true, ticklabeloverflow: 'allow'};

const layout = {
  width: 2015, height: 887,
  margin: {l: margin.l, r: margin.r, t: margin.t, b: margin.b, pad: 0},
  paper_bgcolor: '#ffffff', plot_bgcolor: '#ffffff',
  showlegend: false,
  xaxis: Object.assign({}, common, {
    range: xRange, tickmode: 'array', tickvals: xTickVals, ticktext: xTickText,
    ticklen: 16, tickfont: axisFont, ticklabelstandoff: 5,
    minor: {tickmode: 'linear', tick0: 47, dtick: 0.5, ticks: 'inside', ticklen: 8, tickwidth: 2, tickcolor: '#000', showgrid: false},
    title: {text: 'Wavelength (μm)', font: titleFont, standoff: 24}
  }),
  xaxis2: Object.assign({}, common, {
    overlaying: 'x', side: 'top', range: xRange, tickmode: 'array', tickvals: xTickVals, ticklen: 15,
    showticklabels: false,
    minor: {tickmode: 'linear', tick0: 47, dtick: 0.5, ticks: 'inside', ticklen: 7, tickwidth: 2, tickcolor: '#000', showgrid: false}
  }),
  yaxis: Object.assign({}, common, {
    range: yRange, tickmode: 'array', tickvals: yTickVals, ticktext: yTickText,
    ticklen: 36, tickfont: axisFont, ticklabelstandoff: 4,
    minor: {tickmode: 'linear', tick0: 0, dtick: 0.05, ticks: 'inside', ticklen: 18, tickwidth: 2, tickcolor: '#000', showgrid: false},
    title: {text: 'Flux (10<sup>-15</sup> W cm<sup>-2</sup> μm<sup>-1</sup>)', font: titleFont, standoff: 36}
  }),
  yaxis2: Object.assign({}, common, {
    overlaying: 'y', side: 'right', range: yRange, tickmode: 'array', tickvals: yTickVals, ticklen: 37,
    showticklabels: false,
    minor: {tickmode: 'linear', tick0: 0, dtick: 0.05, ticks: 'inside', ticklen: 19, tickwidth: 2, tickcolor: '#000', showgrid: false}
  }),
  shapes: shapes,
  annotations: annotations
};

Plotly.newPlot('chart', traces, layout, {staticPlot: true, displayModeBar: false});
</script>
</body>
</html>
